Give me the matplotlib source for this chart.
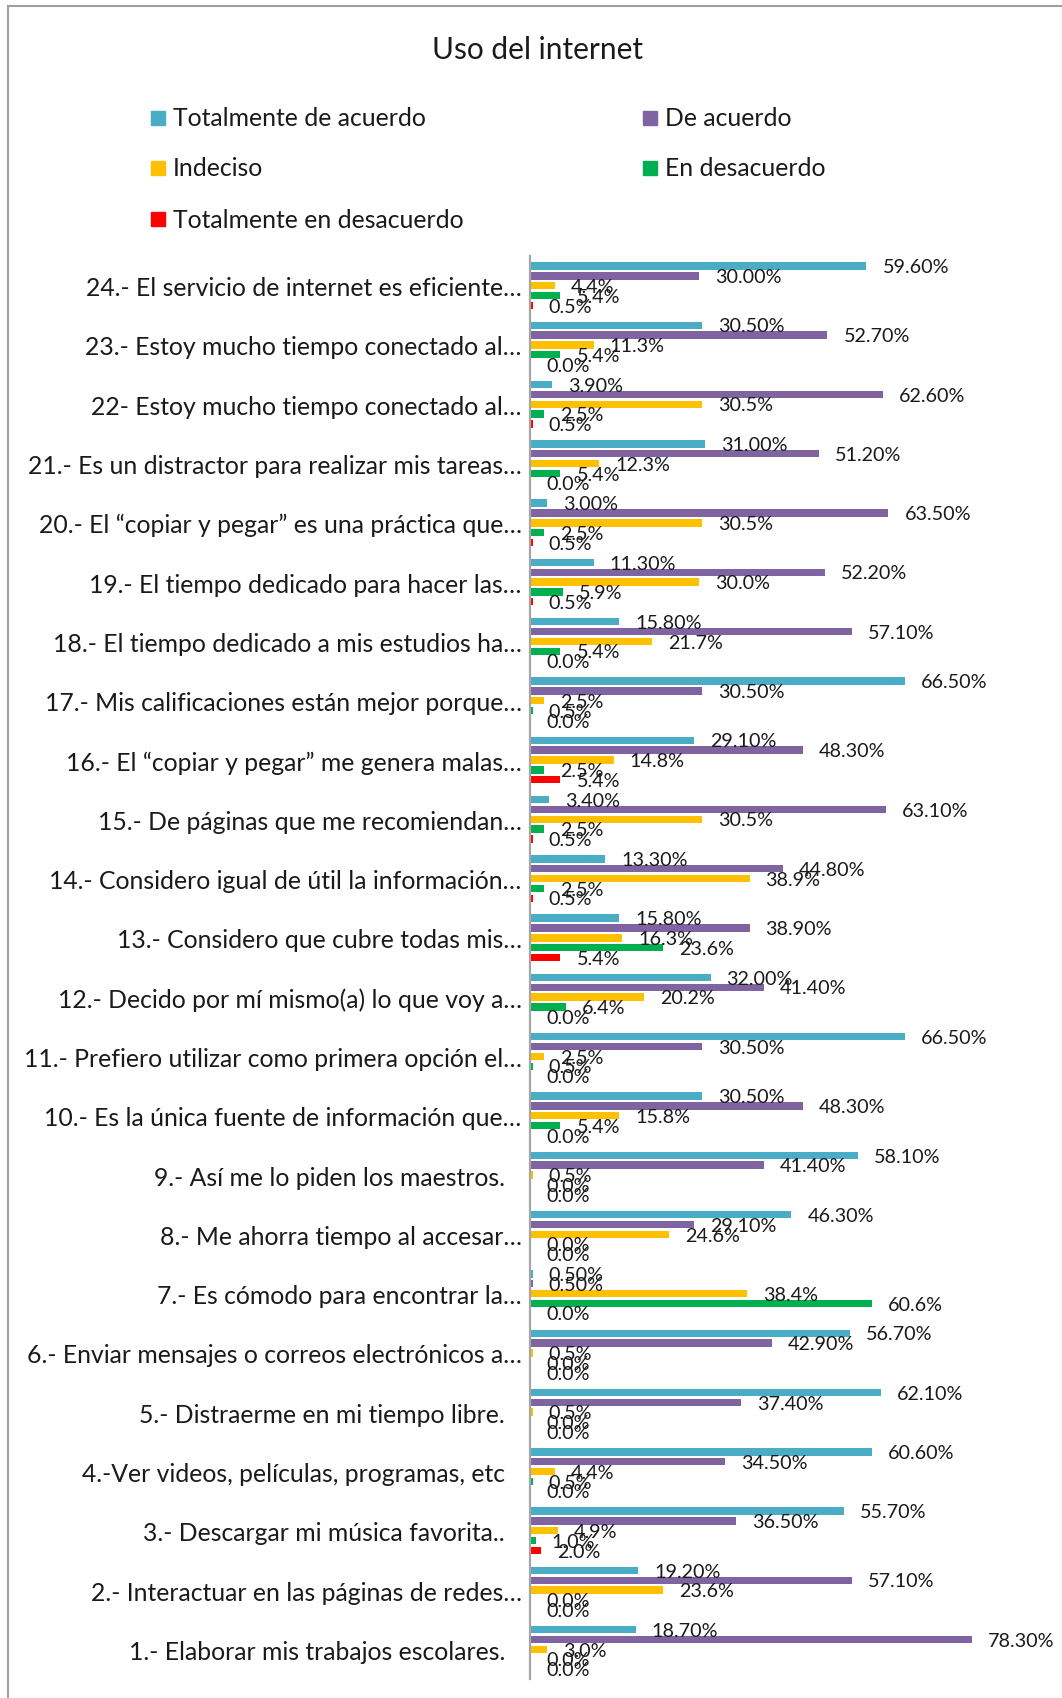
import matplotlib.pyplot as plt
from matplotlib.patches import Rectangle
from matplotlib.lines import Line2D
import numpy as np

plt.rcParams['font.family'] = ['Lato', 'DejaVu Sans']

# categories, listed top to bottom as in the chart
categories = [
    "24.- El servicio de internet es eficiente…",
    "23.- Estoy mucho tiempo conectado al…",
    "22- Estoy mucho tiempo conectado al…",
    "21.- Es un distractor para realizar mis tareas…",
    "20.- El “copiar y pegar” es una práctica que…",
    "19.- El tiempo dedicado para hacer las…",
    "18.- El tiempo dedicado a mis estudios ha…",
    "17.- Mis calificaciones están mejor porque…",
    "16.- El “copiar y pegar” me genera malas…",
    "15.- De páginas que me recomiendan…",
    "14.- Considero igual de útil la información…",
    "13.- Considero que cubre todas mis…",
    "12.- Decido por mí mismo(a) lo que voy a…",
    "11.- Prefiero utilizar como primera opción el…",
    "10.- Es la única fuente de información que…",
    "9.- Así me lo piden los maestros.",
    "8.- Me ahorra tiempo al accesar…",
    "7.- Es cómodo para encontrar la…",
    "6.- Enviar mensajes o correos electrónicos a…",
    "5.- Distraerme en mi tiempo libre.",
    "4.-Ver videos, películas, programas, etc",
    "3.- Descargar mi música favorita..",
    "2.- Interactuar en las páginas de redes…",
    "1.- Elaborar mis trabajos escolares.",
]

totalmente_de_acuerdo = [59.6, 30.5, 3.9, 31.0, 3.0, 11.3, 15.8, 66.5, 29.1, 3.4, 13.3, 15.8,
                         32.0, 66.5, 30.5, 58.1, 46.3, 0.5, 56.7, 62.1, 60.6, 55.7, 19.2, 18.7]
de_acuerdo = [30.0, 52.7, 62.6, 51.2, 63.5, 52.2, 57.1, 30.5, 48.3, 63.1, 44.8, 38.9,
              41.4, 30.5, 48.3, 41.4, 29.1, 0.5, 42.9, 37.4, 34.5, 36.5, 57.1, 78.3]
indeciso = [4.4, 11.3, 30.5, 12.3, 30.5, 30.0, 21.7, 2.5, 14.8, 30.5, 38.9, 16.3,
            20.2, 2.5, 15.8, 0.5, 24.6, 38.4, 0.5, 0.5, 4.4, 4.9, 23.6, 3.0]
en_desacuerdo = [5.4, 5.4, 2.5, 5.4, 2.5, 5.9, 5.4, 0.5, 2.5, 2.5, 2.5, 23.6,
                 6.4, 0.5, 5.4, 0.0, 0.0, 60.6, 0.0, 0.0, 0.5, 1.0, 0.0, 0.0]
totalmente_en_desacuerdo = [0.5, 0.0, 0.5, 0.0, 0.5, 0.5, 0.0, 0.0, 5.4, 0.5, 0.5, 5.4,
                            0.0, 0.0, 0.0, 0.0, 0.0, 0.0, 0.0, 0.0, 0.0, 2.0, 0.0, 0.0]

series_names = ["Totalmente de acuerdo", "De acuerdo", "Indeciso",
                "En desacuerdo", "Totalmente en desacuerdo"]
series_values = [totalmente_de_acuerdo, de_acuerdo, indeciso,
                 en_desacuerdo, totalmente_en_desacuerdo]
colors = ["#4BACC6", "#8064A2", "#FFC000", "#00B050", "#FF0000"]
label_fmt = ["{:.2f}%", "{:.2f}%", "{:.1f}%", "{:.1f}%", "{:.1f}%"]

W, H = 1062, 1699
fig = plt.figure(figsize=(W / 100, H / 100), dpi=100)
ax = fig.add_axes([530 / W, 19 / H, (1038 - 530) / W, (1680 - 257) / H])

y = np.arange(len(categories))
slot = 0.166
bar_h = 0.125
for k, (name, vals) in enumerate(zip(series_names, series_values)):
    pos = y + (k - 2) * slot
    ax.barh(pos, vals, height=bar_h, color=colors[k], label=name)
    for p, v in zip(pos, vals):
        ax.annotate(label_fmt[k].format(v), (v, p), xytext=(11.5, -0.5),
                    textcoords='offset points', va='center', ha='left',
                    fontsize=14.2, color='#1a1a1a')

ax.set_xlim(0, 90)
ax.set_ylim(len(categories) - 0.5, -0.5)
ax.set_yticks(y)
ax.set_yticklabels(categories, fontsize=17.8, color='#1a1a1a')
ax.tick_params(axis='y', length=0, pad=6)
# labels that were not cut off sit a bit further from the axis
for tick, cat in zip(ax.yaxis.get_major_ticks(), categories):
    if not cat.endswith("…"):
        tick.set_pad(18)
ax.set_xticks([])
for s in ['top', 'right', 'bottom']:
    ax.spines[s].set_visible(False)
ax.spines['left'].set_color('#A6A6A6')
ax.spines['left'].set_linewidth(1.6)

# title
fig.text(538 / W, 1 - 50 / H, "Uso del internet", ha='center', va='center',
         fontsize=21.5, color='#1a1a1a')

# legend, filled row by row in two columns
col_x = [151, 643]
row_y = [119, 169, 220]
for i, name in enumerate(series_names):
    cx = col_x[i % 2]
    cy = row_y[i // 2]
    fig.patches.append(Rectangle((cx / W, 1 - (cy + 7) / H), 14 / W, 14 / H,
                                 transform=fig.transFigure, color=colors[i]))
    fig.text((cx + 22) / W, 1 - cy / H, name, ha='left', va='center',
             fontsize=17.8, color='#1a1a1a')

# chart frame
fig.lines.append(Line2D([8 / W, 8 / W], [0, 1 - 7 / H], transform=fig.transFigure,
                        color='#A0A0A0', linewidth=1.5))
fig.lines.append(Line2D([8 / W, 1], [1 - 7 / H, 1 - 7 / H], transform=fig.transFigure,
                        color='#A0A0A0', linewidth=1.5))

fig.savefig("out.png", dpi=100, facecolor='white')
